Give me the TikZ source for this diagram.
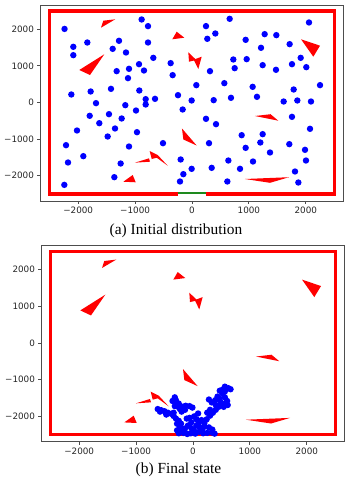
\documentclass[tikz,border=0pt]{standalone}
\usepackage{fontspec}
\setmainfont{Liberation Serif}
\newfontfamily\tickfont{DejaVu Sans}
\definecolor{axgray}{HTML}{4D4D4D}
\definecolor{ticktext}{HTML}{262626}
\definecolor{exitgreen}{HTML}{1E8A1E}
\tikzset{
  robot/.style={fill=blue},
  obstacle/.style={fill=red},
  wall/.style={draw=red, line width=3.3pt, line join=miter},
  exitline/.style={draw=exitgreen, line width=2.2pt},
  axframe/.style={draw=axgray, line width=0.9pt},
  tickmark/.style={draw=axgray, line width=0.9pt},
  ticklabel/.style={font=\tickfont\fontsize{8.8}{10}\selectfont, text=ticktext, inner sep=0pt},
  captext/.style={font=\fontsize{15.4}{18}\selectfont, inner sep=0pt, anchor=base}
}
\newcommand\drawobstacles{%
  \fill[obstacle] (-1599,2044) -- (-1559,2235) -- (-1348,2273) -- cycle;
  \fill[obstacle] (-346,1727) -- (-269,1934) -- (-135,1770) -- cycle;
  \fill[obstacle] (-65,1372) -- (-53,1115) -- (76,1161) -- cycle;
  \fill[obstacle] (30,1169) -- (170,1251) -- (111,915) -- cycle;
  \fill[obstacle] (-1981,888) -- (-1541,1317) -- (-1793,751) -- cycle;
  \fill[obstacle] (1916,1727) -- (2250,1552) -- (2132,1251) -- cycle;
  \fill[obstacle] (1107,-369) -- (1380,-320) -- (1517,-497) -- cycle;
  \fill[obstacle] (931,-2090) -- (1705,-2041) -- (1371,-2194) -- cycle;
  \fill[obstacle] (-176,-710) -- (-152,-1011) -- (82,-1175) -- cycle;
  \fill[obstacle] (-1002,-1644) -- (-756,-1525) -- (-738,-1617) -- cycle;
  \fill[obstacle] (-744,-1325) -- (-603,-1434) -- (-427,-1727) -- (-620,-1508) -- (-708,-1544) -- cycle;
  \fill[obstacle] (-1207,-2164) -- (-1042,-1981) -- (-989,-2180) -- cycle;
}
\newcommand\drawaxes[1]{%
  \draw[axframe] (-2660,-2690) rectangle (2660,2660);
  \foreach \v/\t in {-2000/{−2000},-1000/{−1000},0/0,1000/1000,2000/2000} {
    \draw[tickmark] (\v,-2690) -- ++(0pt,-3.5pt);
    \node[ticklabel, anchor=north] (#1x\v) at ([yshift=-6pt]\v,-2690) {\t};
    \draw[tickmark] (-2660,\v) -- ++(-3.5pt,0pt);
    \node[ticklabel, anchor=east] (#1y\v) at ([xshift=-6.5pt]-2660,\v) {\t};
  }
}
\begin{document}
\begin{tikzpicture}[x=1pt,y=1pt]
\useasboundingbox (0,0) rectangle (351,480);
\fill[white] (0,0) rectangle (351,480);

% ---------- (a) Initial distribution ----------
\begin{scope}[shift={(192pt,377.5pt)}, x=0.0569pt, y=0.0366pt]
  \drawaxes{a}
  \draw[wall] (-250,-2500) -- (-2500,-2500) -- (-2500,2500) -- (2500,2500) -- (2500,-2500) -- (250,-2500);
  \draw[exitline] (-250,-2480) -- (250,-2480);
  \drawobstacles
  \foreach \p in {(-2240,2010),(-885,2268),(-773,2086),(246,2086),(662,2286),(410,1885),(269,1740),(2056,2186),
    (-2086,1521),(-2086,1293),(-1840,1639),(-1283,1685),(-1394,1466),(-1160,1366),(-773,1639),(-680,1220),
    (943,1712),(1277,1867),(1482,1840),(1213,1494),(1716,1594),(961,1184),(726,1175),(750,938),(1242,1020),
    (1476,893),(1757,1047),(1910,1220),(2009,965),(2250,474),(-375,1075),(-340,747),(316,856),(-931,1047),
    (-844,874),(-1107,920),(-1324,856),(-1125,665),(76,474),(568,528),(1066,428),(1142,155),(685,128),
    (381,64),(-6,55),(-246,200),(-814,91),(-650,100),(-926,328),(-1424,373),(-1781,301),(-2121,219),
    (-1687,-18),(-1798,-364),(-1629,-565),(-1459,-319),(-1172,-73),(-1236,-437),(-1353,-710),(-984,-219),
    (-814,-55),(-1482,-929),(-967,-811),(-2021,-765),(-1107,-1202),(-510,-1111),(-164,-191),(246,-446),
    (422,-592),(1611,27),(1851,55),(2091,27),(1787,355),(1757,-392),(2074,-719),(873,-893),(943,-1239),
    (1242,-865),(1201,-1093),(1371,-1366),(1710,-1138),(1986,-1293),(2003,-1585),(1810,-1885),(1869,-2186),
    (299,-1111),(-199,-1557),(-6,-1812),(-152,-1958),(-211,-2158),(346,-1785),(639,-1585),(844,-1812),
    (1072,-1612),(621,-2158),(-1254,-1667),(-1910,-1466),(-2179,-1639),(-2214,-1166),(-1365,-2040),(-2244,-2250)}
    \fill[robot] \p circle[radius=3.2pt];
\end{scope}
\node[captext] (capa) at (176,245.7) {(a) Initial distribution};

% ---------- (b) Final state ----------
\begin{scope}[shift={(193pt,137pt)}, x=0.0569pt, y=0.0367pt]
  \drawaxes{b}
  \draw[wall] (-2500,-2500) rectangle (2500,2500);
  \drawobstacles
  \foreach \p in {(-620,-1800),(-560,-1830),(-500,-1860),(-440,-1900),(-380,-1930),(-340,-1900),(-580,-1870),(-470,-1950),
    (-320,-1480),(-300,-1560),(-290,-1640),(-320,-1720),(-260,-1740),(-200,-1730),(-130,-1710),(-60,-1720),
    (-10,-1760),(-140,-1820),(-200,-1870),(-250,-1650),(-360,-1580),(-230,-1800),
    (-340,-1990),(-300,-2060),(-250,-2120),(-210,-2200),(-230,-2290),(-200,-2380),(-170,-2450),(-100,-2480),(-40,-2460),
    (-280,-2200),(-280,-2380),(-250,-2460),(-140,-2330),
    (20,-2000),(90,-1920),(60,-2080),(150,-2100),(100,-2180),(60,-2250),(-30,-2320),(20,-2390),(110,-2420),
    (180,-2460),(250,-2450),(330,-2440),(380,-2470),(280,-2300),(200,-2280),(-90,-2250),(-30,-2160),(-110,-2060),
    (160,-2360),(340,-2360),(-60,-2040),(40,-2470),(120,-2300),
    (240,-2080),(300,-1980),(350,-1900),(400,-1820),(450,-1740),(300,-1820),(280,-1540),(330,-1620),(390,-1560),
    (430,-1460),(490,-1620),(560,-1650),(610,-1690),(600,-1580),(560,-1480),(520,-1380),(510,-1280),(560,-1190),
    (620,-1230),(660,-1260),(560,-1320),(470,-1300),(200,-2180),(250,-1900),(400,-1690),(470,-1520),(540,-1740)}
    \fill[robot] \p circle[radius=3.2pt];
\end{scope}
\node[captext] (capb) at (178.5,6.8) {(b) Final state};
\end{tikzpicture}
\end{document}
